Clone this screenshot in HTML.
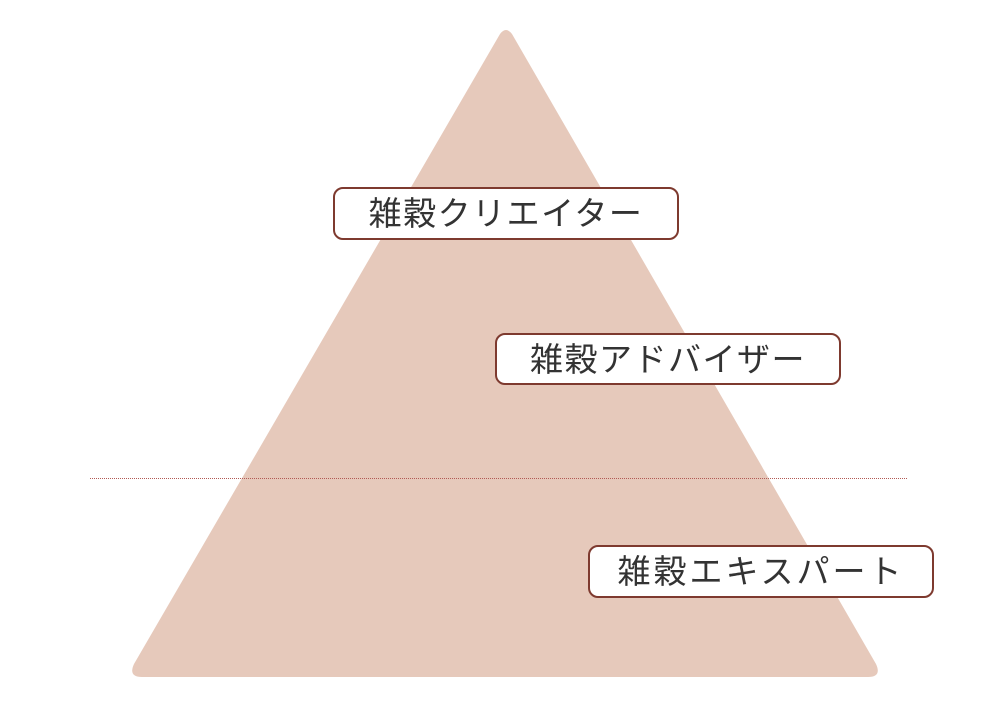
<!DOCTYPE html>
<html><head><meta charset="utf-8"><style>
body{margin:0;width:1007px;height:719px;background:#fff;position:relative;overflow:hidden}
.b{position:absolute;box-sizing:border-box;border:2px solid #7e3a2f;border-radius:10px;background:#fff;color:#333;font-family:"Liberation Sans","Noto Sans CJK JP",sans-serif;font-size:33px;letter-spacing:1.5px;display:flex;align-items:center;justify-content:center;line-height:1}
</style></head><body>
<svg width="1007" height="719" style="position:absolute;left:0;top:0">
<path d="M500,34 Q506,26 512,34 L876,664 Q882,677 868,677 L142,677 Q128,677 134,664 Z" fill="#e6c9bb"/>
<line x1="90" y1="478.5" x2="908" y2="478.5" stroke="#b25a55" stroke-width="1" stroke-dasharray="1,1"/>
</svg>
<div class="b" style="left:333px;top:187px;width:346px;height:53px">雑穀クリエイター</div>
<div class="b" style="left:495px;top:333px;width:346px;height:52px">雑穀アドバイザー</div>
<div class="b" style="left:588px;top:545px;width:346px;height:53px;letter-spacing:3px">雑穀エキスパート</div>
</body></html>
